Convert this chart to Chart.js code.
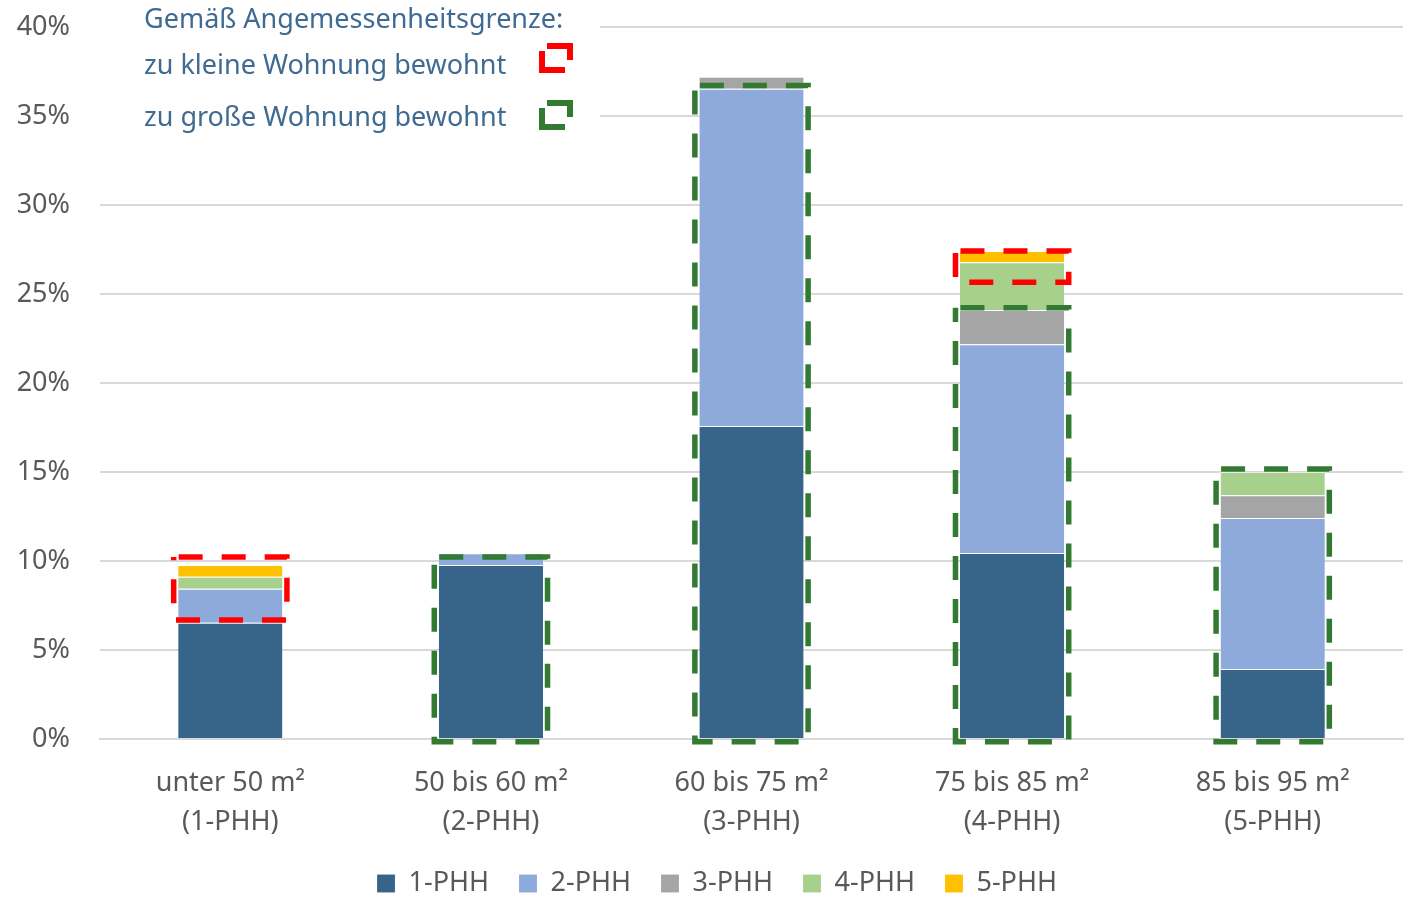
<!DOCTYPE html>
<html>
<head>
<meta charset="utf-8">
<script src="https://cdn.jsdelivr.net/npm/chart.js@4"></script>
<style>
  html, body { margin: 0; padding: 0; background: #fff; }
  #wrap { width: 1408px; height: 897px; }
</style>
</head>
<body>
<div id="wrap"><canvas id="chart"></canvas></div>
<script>
// Kategorien (Wohnfläche / Haushaltsgröße)
var categories = [
  ['unter 50 m²', '(1-PHH)'],
  ['50 bis 60 m²', '(2-PHH)'],
  ['60 bis 75 m²', '(3-PHH)'],
  ['75 bis 85 m²', '(4-PHH)'],
  ['85 bis 95 m²', '(5-PHH)']
];
var seriesNames = ['1-PHH', '2-PHH', '3-PHH', '4-PHH', '5-PHH'];
var phh1 = [6.53, 9.78, 17.58, 10.45, 3.93];
var phh2 = [1.91, 0.65, 18.95, 11.72, 8.49];
var phh3 = [0, 0, 0.67, 1.93, 1.27];
var phh4 = [0.68, 0, 0, 2.68, 1.31];
var phh5 = [0.66, 0, 0, 0.64, 0];
var seriesColors = ['#376489', '#8eaadb', '#a5a5a5', '#a8d08d', '#ffc000'];

// Angemessenheitsgrenze (Rahmen, in %)
var smallFrom = [6.69, null, null, 25.66, null];
var smallTo   = [10.22, null, null, 27.42, null];
var largeFrom = [null, -0.15, -0.15, -0.15, -0.15];
var largeTo   = [null, 10.22, 36.72, 24.23, 15.17];

var yTicks = [0, 5, 10, 15, 20, 25, 30, 35, 40];

var FONT = '"Noto Sans", "Open Sans", sans-serif';
var textGrey = '#595959';
var noteBlue = '#3f6a92';
var red = '#ff0000';
var green = '#327a32';

var allData = [phh1, phh2, phh3, phh4, phh5];
var datasets = seriesNames.map(function (n, i) {
  return {
    label: n,
    data: allData[i],
    backgroundColor: seriesColors[i],
    borderColor: 'rgba(255,255,255,0.5)',
    borderWidth: { top: 1, bottom: 0, left: 0, right: 0 },
    borderSkipped: false,
    barPercentage: 0.4,
    categoryPercentage: 1.0
  };
});

function dashedBox(ctx, x1, y1, x2, y2, color) {
  ctx.save();
  ctx.strokeStyle = color;
  ctx.lineWidth = 5.5;
  ctx.setLineDash([24, 19]);
  ctx.lineDashOffset = -5;
  ctx.beginPath();
  ctx.moveTo(x1, y1);
  ctx.lineTo(x2, y1);
  ctx.lineTo(x2, y2);
  ctx.lineTo(x1, y2);
  ctx.closePath();
  ctx.stroke();
  ctx.restore();
}

var boxPlugin = {
  id: 'boxes',
  beforeDatasetsDraw: function (chart) {
    // weiße Fläche der Legende über den Gitterlinien
    var ctx = chart.ctx;
    ctx.save();
    ctx.fillStyle = '#fff';
    ctx.fillRect(chart.chartArea.left, 0, 500, 140);
    ctx.restore();
  },
  afterDatasetsDraw: function (chart) {
    var ctx = chart.ctx;
    var y = chart.scales.y;
    var meta = chart.getDatasetMeta(0);
    for (var i = 0; i < categories.length; i++) {
      var bar = meta.data[i];
      var half = bar.width / 2 + 4.5;
      if (largeTo[i] !== null) {
        dashedBox(ctx, bar.x - half, y.getPixelForValue(largeTo[i]), bar.x + half, y.getPixelForValue(largeFrom[i]), green);
      }
      if (smallTo[i] !== null) {
        dashedBox(ctx, bar.x - half, y.getPixelForValue(smallTo[i]), bar.x + half, y.getPixelForValue(smallFrom[i]), red);
      }
    }
  },
  afterDraw: function (chart) {
    var ctx = chart.ctx;
    ctx.save();
    ctx.fillStyle = noteBlue;
    ctx.font = '27px ' + FONT;
    ctx.textBaseline = 'middle';
    ctx.textAlign = 'left';
    ctx.fillText('Gemäß Angemessenheitsgrenze:', 144, 20);
    ctx.fillText('zu kleine Wohnung bewohnt', 144, 66);
    ctx.fillText('zu große Wohnung bewohnt', 144, 118);
    ctx.lineWidth = 6;
    ctx.lineCap = 'butt';
    [[red, 46], [green, 103]].forEach(function (c) {
      var t = c[1];
      ctx.strokeStyle = c[0];
      ctx.beginPath();
      ctx.moveTo(547, t); ctx.lineTo(570, t); ctx.lineTo(570, t + 14);
      ctx.moveTo(542, t + 5); ctx.lineTo(542, t + 24); ctx.lineTo(565, t + 24);
      ctx.stroke();
    });
    ctx.restore();
  }
};

new Chart(document.getElementById('chart'), {
  type: 'bar',
  data: { labels: categories, datasets: datasets },
  plugins: [boxPlugin],
  options: {
    responsive: true,
    maintainAspectRatio: false,
    animation: false,
    layout: { autoPadding: false, padding: { top: 27, right: -26, left: 0, bottom: -10 } },
    plugins: {
      tooltip: { enabled: false },
      legend: {
        position: 'bottom',
        labels: {
          color: textGrey,
          font: { family: FONT, size: 27 },
          boxWidth: 18,
          boxHeight: 18,
          padding: 30
        }
      }
    },
    scales: {
      x: {
        stacked: true,
        afterFit: function (s) { s.height = 101; },
        grid: { display: false, drawTicks: false },
        border: { display: true, color: '#d9d9d9', width: 2 },
        ticks: {
          color: textGrey,
          font: { family: FONT, size: 27, lineHeight: 1.45 },
          padding: 25,
          maxRotation: 0
        }
      },
      y: {
        stacked: true,
        min: 0,
        max: 40,
        afterFit: function (s) { s.width = 100; },
        afterBuildTicks: function (s) { s.ticks = yTicks.map(function (v) { return { value: v }; }); },
        grid: { color: '#d9d9d9', lineWidth: 2, drawTicks: true, tickLength: 30, tickColor: 'rgba(0,0,0,0)' },
        border: { display: false },
        ticks: {
          color: textGrey,
          font: { family: FONT, size: 27 },
          padding: 0,
          callback: function (v) { return v + '%'; }
        }
      },
      // leere rechte Achse, hält den Plotbereich bei 1403 px
      y2: {
        position: 'right',
        min: 0,
        max: 40,
        afterFit: function (s) { s.width = 31; },
        grid: { display: false },
        border: { display: false },
        ticks: { display: false, padding: 0 }
      }
    }
  }
});
</script>
</body>
</html>
